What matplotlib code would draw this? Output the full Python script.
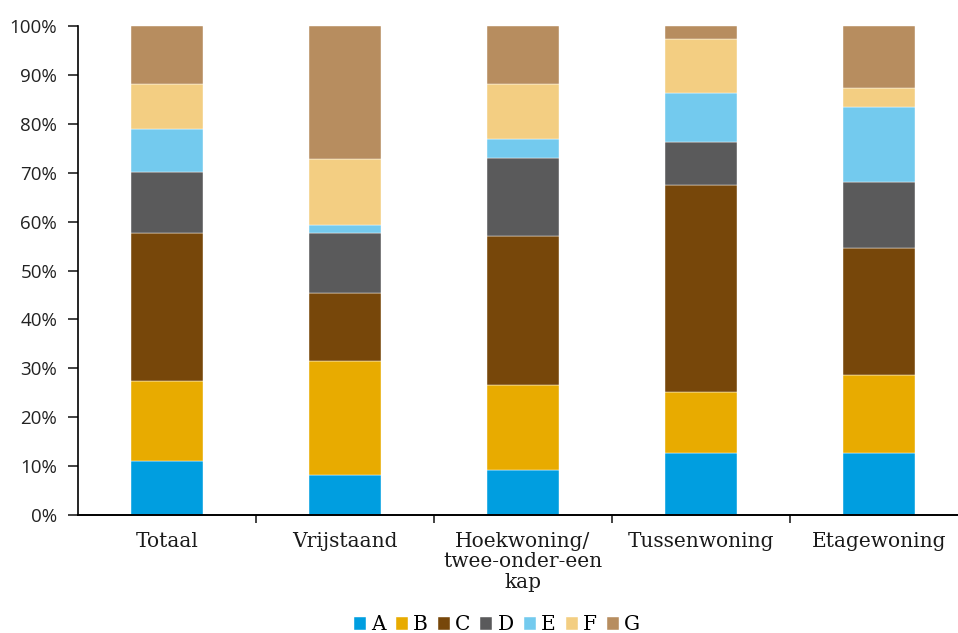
#!/usr/bin/env python
import numpy as np
from matplotlib import pyplot as plt
from matplotlib.ticker import PercentFormatter

CATEGORIES = ['Totaal', 'Vrijstaand', 'Hoekwoning/\ntwee-onder-een\nkap', 'Tussenwoning', 'Etagewoning']
LABELS = ['A', 'B', 'C', 'D', 'E', 'F', 'G']
COLORS = ['#009ee0', '#e8ab00', '#77470a', '#5a5a5b', '#73caee', '#f3ce82', '#b78d5f']

# share per label (percent), one list per category
TOTAAL = [11.0, 16.5, 30.1, 12.5, 8.9, 9.1, 11.9]
VRIJSTAAND = [8.2, 23.3, 14.0, 12.2, 1.7, 13.3, 27.3]
HOEKWONING = [9.2, 17.3, 30.5, 16.1, 3.8, 11.2, 11.9]
TUSSENWONING = [12.6, 12.6, 42.3, 8.7, 10.0, 11.1, 2.7]
ETAGEWONING = [12.6, 16.0, 25.9, 13.7, 15.3, 3.8, 12.7]


def main():
    data = np.array([TOTAAL, VRIJSTAAND, HOEKWONING, TUSSENWONING, ETAGEWONING]) / 100

    fig = plt.figure(figsize=(9.58, 6.33), dpi=100)
    ax = fig.add_axes([78 / 958, 118 / 633, 890 / 958, 489 / 633])

    x = np.arange(len(CATEGORIES))
    bottom = np.zeros(len(CATEGORIES))
    for i, label in enumerate(LABELS):
        ax.bar(x, data[:, i], bottom=bottom, width=0.4, color=COLORS[i], label=label,
               edgecolor='#ffffff', linewidth=0.3)
        bottom += data[:, i]

    ax.set_xlim(-0.5, len(CATEGORIES) - 0.5)
    ax.set_ylim(0, 1)
    ax.yaxis.set_major_formatter(PercentFormatter(1.0, decimals=0))
    ax.set_yticks(np.arange(0, 1.01, 0.1))
    ax.set_xticks(x)
    ax.set_xticklabels(CATEGORIES, family='DejaVu Serif', fontsize=14.5, color='#1a1a1a',
                       linespacing=1.1)
    ax.set_xticks(np.arange(0.5, len(CATEGORIES) - 0.5), minor=True)
    ax.tick_params(axis='x', which='major', length=0, pad=12)
    ax.tick_params(axis='x', which='minor', length=6, width=1.2, color='#222222')
    ax.tick_params(axis='y', length=7, width=1.2, color='#222222', labelsize=13.5, pad=8)
    for lbl in ax.get_yticklabels():
        lbl.set_family('Open Sans')
        lbl.set_color('#222222')

    for side in ['top', 'right']:
        ax.spines[side].set_visible(False)
    ax.spines['left'].set_linewidth(1.2)
    ax.spines['bottom'].set_linewidth(1.4)

    fig.legend(loc='center', bbox_to_anchor=(497 / 958, 1 - 625 / 633), ncol=7, frameon=False,
               handlelength=0.6, handleheight=0.6, handletextpad=0.25, columnspacing=0.5,
               prop={'family': 'DejaVu Serif', 'size': 14.5})

    fig.savefig('out.png', dpi=100)


if __name__ == '__main__':
    main()
